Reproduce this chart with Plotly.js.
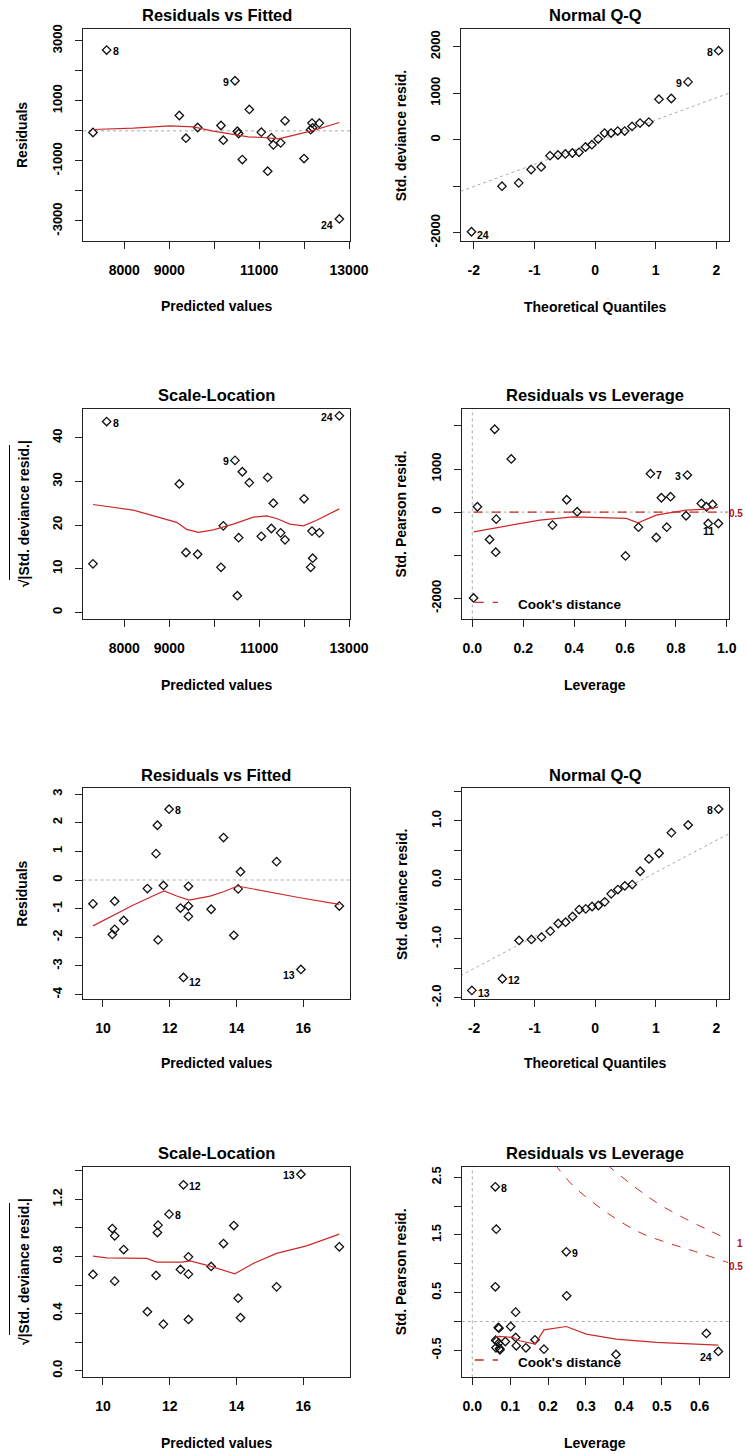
<!DOCTYPE html>
<html><head><meta charset="utf-8">
<script src="https://cdn.plot.ly/plotly-3.0.1.min.js"></script>
<style>html,body{margin:0;padding:0;background:#fff;} #plot{width:746px;height:1454px;}</style>
</head><body><div id="plot"></div>
<script>
const W = 746, H = 1454;
const RED = '#cc2a2a', DARKRED = '#b01818', GREY = '#ababab', INK = '#111';
const FONT = '"Liberation Sans", Arial, Helvetica, sans-serif';

// ---------------- data: model 1 ----------------
const fitted1 = [7303,7607,9224,9372,9632,10151,10203,10463,10515,10545,10626,10782,11049,11190,11272,11316,11479,11576,11999,12147,12177,12191,12340,12785];
const resid1 = [-56,2689,511,-244,111,178,-311,1667,-11,-89,-956,711,-44,-1344,-233,-467,-400,333,-922,40,257,100,256,-2933];
const sqrtStdDev1 = [11.1,43.7,29.4,13.7,13.3,10.3,19.8,34.8,3.8,17.1,32.2,29.7,17.4,30.9,19.2,25.0,18.2,16.6,26.0,10.3,18.6,12.4,18.2,45.0];
const smoothResid1X = [7303,8200,9016,9536,9981,10426,10760,11094,11427,11687,12169,12785];
const smoothResid1Y = [44,89,167,133,-11,-122,-200,-222,-267,-178,0,278];
const smoothScale1X = [7303,8200,9165,9387,9647,9981,10426,10871,11168,11390,11687,11984,12280,12785];
const smoothScale1Y = [24.7,23.4,20.6,19.0,18.3,18.9,20.2,21.8,22.1,21.5,20.2,19.8,21.1,23.7];
const theoQuant = [-2.037,-1.534,-1.258,-1.054,-0.887,-0.742,-0.611,-0.489,-0.374,-0.264,-0.157,-0.052,0.052,0.157,0.264,0.374,0.489,0.611,0.742,0.887,1.054,1.258,1.534,2.037];
const stdDevSorted1 = [-1979,-1000,-929,-643,-586,-343,-329,-307,-286,-271,-157,-107,14,143,143,186,186,286,357,379,871,886,1243,1914];
const qqLine1X = [-2.4, 2.4];
const qqLine1Y = [-1198, 1092];
const leverage1 = [0.005,0.020,0.068,0.088,0.092,0.094,0.153,0.315,0.371,0.412,0.602,0.653,0.700,0.723,0.743,0.764,0.779,0.840,0.845,0.900,0.920,0.927,0.944,0.967];
const pearson1 = [-1992,124,-636,1922,-930,-163,1233,-302,287,8,-1016,-349,891,-589,333,-349,357,-85,860,202,124,-264,178,-264];
const smoothLev1X = [0.005,0.134,0.265,0.396,0.527,0.605,0.651,0.723,0.763,0.841,0.920,0.966];
const smoothLev1Y = [-457,-318,-186,-109,-124,-147,-248,-70,-31,47,70,116];
const cook1X = [0.005, 1.0];
const cook1Y = [0, 0];

// ---------------- data: model 2 ----------------
const fitted2 = [9.70,10.28,10.35,10.35,10.62,11.33,11.59,11.63,11.65,11.81,11.98,12.32,12.41,12.56,12.56,12.56,13.24,13.61,13.92,14.05,14.12,15.20,15.93,17.08];
const resid2 = [-0.83,-1.90,-1.72,-0.74,-1.41,-0.30,0.92,1.91,-2.09,-0.19,2.47,-0.98,-3.40,-0.22,-0.91,-1.27,-1.02,1.48,-1.93,-0.31,0.29,0.64,-3.12,-0.91];
const sqrtStdDev2 = [0.674,0.995,0.944,0.627,0.848,0.413,0.667,0.967,1.019,0.326,1.096,0.709,1.301,0.359,0.676,0.797,0.730,0.890,1.016,0.508,0.371,0.587,1.375,0.867];
const smoothResid2X = [9.70,10.31,10.91,11.51,11.83,12.21,12.58,13.21,13.61,14.03,14.90,15.90,17.08];
const smoothResid2Y = [-1.60,-1.22,-0.87,-0.55,-0.38,-0.56,-0.70,-0.56,-0.41,-0.21,-0.41,-0.62,-0.85];
const smoothScale2X = [9.70,10.11,11.31,11.61,12.36,12.61,13.21,13.95,14.50,15.20,16.10,17.08];
const smoothScale2Y = [0.802,0.790,0.786,0.760,0.760,0.769,0.732,0.678,0.751,0.821,0.874,0.956];
const stdDevSorted2 = [-1.876,-1.678,-1.028,-1.011,-0.972,-0.870,-0.740,-0.718,-0.621,-0.503,-0.492,-0.452,-0.435,-0.373,-0.237,-0.164,-0.102,-0.079,0.147,0.356,0.452,0.802,0.932,1.203];
const qqLine2X = [-2.4, 2.4];
const qqLine2Y = [-1.721, 0.889];
const leverage2 = [0.0607,0.0633,0.0607,0.0686,0.0704,0.1012,0.1144,0.0616,0.0640,0.0695,0.0625,0.0721,0.0871,0.1144,0.1161,0.1416,0.1654,0.1891,0.2481,0.2490,0.3792,0.6176,0.6493,0.0730];
const pearson2 = [2.335,1.601,0.601,-0.104,-0.116,-0.087,0.162,-0.324,-0.340,-0.376,-0.457,-0.468,-0.347,-0.277,-0.422,-0.457,-0.318,-0.480,1.208,0.445,-0.572,-0.208,-0.520,-0.490];
const smoothLev2X = [0.0607,0.0721,0.107,0.125,0.1654,0.1891,0.248,0.301,0.379,0.486,0.649];
const smoothLev2Y = [-0.277,-0.26,-0.277,-0.335,-0.393,-0.145,-0.087,-0.22,-0.306,-0.364,-0.41];
const cookHalf2X = [0.218,0.2665,0.319,0.381,0.4425,0.513,0.583,0.675];
const cookHalf2Y = [2.726,2.35,2.062,1.773,1.542,1.369,1.224,1.022];
const cookOne2X = [0.355,0.425,0.4865,0.548,0.618,0.675];
const cookOne2Y = [2.72,2.35,2.062,1.83,1.60,1.426];

// ---------------- ticks ----------------
const ticksFit1 = [8000,9000,10000,11000,12000,13000];
const ticksFit1Txt = ['8000','9000','','11000','','13000'];
const ticksRes1 = [-3000,-2000,-1000,0,1000,2000,3000];
const ticksRes1Txt = ['-3000','','-1000','','1000','','3000'];
const ticksQ = [-2,-1,0,1,2];
const ticksQTxt = ['-2','-1','0','1','2'];
const ticksQQ1 = [-2000,-1000,0,1000,2000];
const ticksQQ1Txt = ['-2000','','0','1000','2000'];
const ticksSL1 = [0,10,20,30,40];
const ticksSL1Txt = ['0','10','20','30','40'];
const ticksLev1 = [0,0.2,0.4,0.6,0.8,1.0];
const ticksLev1Txt = ['0.0','0.2','0.4','0.6','0.8','1.0'];
const ticksPear1 = [-2000,-1000,0,1000,2000];
const ticksPear1Txt = ['-2000','','0','1000',''];
const ticksFit2 = [10,12,14,16];
const ticksFit2Txt = ['10','12','14','16'];
const ticksRes2 = [-4,-3,-2,-1,0,1,2,3];
const ticksRes2Txt = ['-4','-3','-2','-1','0','1','2','3'];
const ticksQQ2 = [-2,-1.5,-1,-0.5,0,0.5,1,1.5];
const ticksQQ2Txt = ['-2.0','','-1.0','','0.0','','1.0',''];
const ticksSL2 = [0,0.2,0.4,0.6,0.8,1.0,1.2,1.4];
const ticksSL2Txt = ['0.0','','0.4','','0.8','','1.2',''];
const ticksLev2 = [0,0.1,0.2,0.3,0.4,0.5,0.6];
const ticksLev2Txt = ['0.0','0.1','0.2','0.3','0.4','0.5','0.6'];
const ticksPear2 = [-0.5,0,0.5,1,1.5,2,2.5];
const ticksPear2Txt = ['-0.5','','0.5','','1.5','','2.5'];

// ---------------- build ----------------
const traces = [], annotations = [], shapes = [];
const layout = {
  width: W, height: H, margin: {l:0, r:0, t:0, b:0, pad:0},
  paper_bgcolor: '#fff', plot_bgcolor: '#fff', showlegend: false,
  font: {family: FONT, color: '#000'}
};
const px = v => v / W, py = v => 1 - v / H;
const axId = n => (n === 1 ? '' : String(n));

function addText(x, y, text, size, opts) {
  annotations.push(Object.assign({
    xref: 'paper', yref: 'paper', x: px(x), y: py(y), text: text, showarrow: false,
    xanchor: 'center', yanchor: 'middle',
    font: {family: FONT, size: size, color: '#000', weight: 'bold'}
  }, opts || {}));
}

function addPanel(p) {
  const id = axId(p.n);
  const b = p.box;
  const common = {
    tickmode: 'array', ticks: 'outside', ticklen: 7, tickwidth: 1, tickcolor: '#222',
    showline: true, mirror: true, linecolor: '#222', linewidth: 1,
    showgrid: false, zeroline: false, automargin: false
  };
  layout['xaxis' + id] = Object.assign({}, common, {
    domain: [px(b.l), px(b.r)], anchor: 'y' + id, range: p.xr,
    tickvals: p.xt, ticktext: p.xtt, ticklabelstandoff: 9,
    tickfont: {family: FONT, size: 14, color: '#000', weight: 'bold'}
  });
  layout['yaxis' + id] = Object.assign({}, common, {
    domain: [py(b.b), py(b.t)], anchor: 'x' + id, range: p.yr,
    tickvals: p.yt, ticktext: p.ytt, tickangle: -90, ticklabelstandoff: 8,
    tickfont: {family: FONT, size: 13, color: '#000', weight: 'bold'}
  });
  (p.refLines || []).forEach(r => traces.push({
    type: 'scatter', mode: 'lines', x: r.x, y: r.y, xaxis: 'x' + id, yaxis: 'y' + id,
    line: {color: r.color, width: r.width || 1, dash: r.dash, shape: r.shape || 'linear'}, hoverinfo: 'skip'
  }));
  (p.hz || []).forEach(v => shapes.push({type:'line', xref:'x'+id+' domain', x0:0, x1:1, yref:'y'+id, y0:v, y1:v,
    layer:'below', line:{color:GREY, width:1, dash:'dot'}}));
  (p.vt || []).forEach(v => shapes.push({type:'line', yref:'y'+id+' domain', y0:0, y1:1, xref:'x'+id, x0:v, x1:v,
    layer:'below', line:{color:GREY, width:1, dash:'dot'}}));
  traces.push({
    type: 'scatter', mode: 'markers', x: p.x, y: p.y, xaxis: 'x' + id, yaxis: 'y' + id,
    marker: {symbol: 'diamond-open', size: 6.5, color: INK, line: {width: 1.3, color: INK}}, hoverinfo: 'skip'
  });
  if (p.sx) traces.push({
    type: 'scatter', mode: 'lines', x: p.sx, y: p.sy, xaxis: 'x' + id, yaxis: 'y' + id,
    line: {color: RED, width: 1.2}, hoverinfo: 'skip'
  });
  (p.labels || []).forEach(L => {
    const a = {
      xref: 'x' + id, yref: 'y' + id, x: p.x[L.i], y: p.y[L.i], text: L.t, showarrow: false,
      yanchor: 'middle', yshift: L.dy || -1,
      font: {family: FONT, size: 10.5, color: '#000', weight: 'bold'}
    };
    if (L.s === 'r') { a.xanchor = 'left'; a.xshift = 4; }
    else if (L.s === 'l') { a.xanchor = 'right'; a.xshift = -4; }
    else { a.xanchor = 'center'; }
    annotations.push(a);
  });
  addText((b.l + b.r) / 2, p.titleY, p.title, 16.5);
  addText((b.l + b.r) / 2, p.xTitleY, p.xTitle, 14);
  addText(p.yTitleX, (b.t + b.b) / 2, p.yTitle, 14, {textangle: -90});
}

const xr1 = [7081, 13022], xrQ = [-2.205, 2.209], xr2 = [9.392, 17.40];

addPanel({n:1, box:{l:83,r:350,t:29,b:241}, xr:xr1, yr:[-3666,3389],
  xt:ticksFit1, xtt:ticksFit1Txt, yt:ticksRes1, ytt:ticksRes1Txt,
  x:fitted1, y:resid1, sx:smoothResid1X, sy:smoothResid1Y, hz:[0],
  labels:[{i:1,t:'8',s:'r'},{i:7,t:'9',s:'l'},{i:23,t:'24',s:'l',dy:-6}],
  title:'Residuals vs Fitted', titleY:15, xTitle:'Predicted values', xTitleY:306, yTitle:'Residuals', yTitleX:22});

addPanel({n:2, box:{l:461.3,r:729,t:29.3,b:240.7}, xr:xrQ, yr:[-2172,2374],
  xt:ticksQ, xtt:ticksQTxt, yt:ticksQQ1, ytt:ticksQQ1Txt,
  x:theoQuant, y:stdDevSorted1,
  refLines:[{x:qqLine1X, y:qqLine1Y, color:GREY, dash:'dot'}],
  labels:[{i:23,t:'8',s:'l'},{i:22,t:'9',s:'l'},{i:0,t:'24',s:'r',dy:-3}],
  title:'Normal Q-Q', titleY:15, xTitle:'Theoretical Quantiles', xTitleY:306.7, yTitle:'Std. deviance resid.', yTitleX:401.3});

addPanel({n:3, box:{l:83,r:350,t:409,b:619.3}, xr:xr1, yr:[-1.6,46.57],
  xt:ticksFit1, xtt:ticksFit1Txt, yt:ticksSL1, ytt:ticksSL1Txt,
  x:fitted1, y:sqrtStdDev1, sx:smoothScale1X, sy:smoothScale1Y,
  labels:[{i:1,t:'8',s:'r'},{i:7,t:'9',s:'l'},{i:23,t:'24',s:'l'}],
  title:'Scale-Location', titleY:395, xTitle:'Predicted values', xTitleY:684.5, yTitle:'√|Std. deviance resid.|', yTitleX:24});

addPanel({n:4, box:{l:461.7,r:729,t:409,b:619.3}, xr:[-0.0417,1.0087], yr:[-2487,2392],
  xt:ticksLev1, xtt:ticksLev1Txt, yt:ticksPear1, ytt:ticksPear1Txt,
  x:leverage1, y:pearson1, sx:smoothLev1X, sy:smoothLev1Y, hz:[0], vt:[0],
  refLines:[{x:cook1X, y:cook1Y, color:RED, dash:'dash', width:1.3}],
  labels:[{i:12,t:'7',s:'r'},{i:18,t:'3',s:'l'},{i:21,t:'11',s:'c',dy:-8}],
  title:'Residuals vs Leverage', titleY:395, xTitle:'Leverage', xTitleY:685, yTitle:'Std. Pearson resid.', yTitleX:401.3});

addPanel({n:5, box:{l:82.7,r:350,t:788.3,b:999.3}, xr:xr2, yr:[-4.162,3.199],
  xt:ticksFit2, xtt:ticksFit2Txt, yt:ticksRes2, ytt:ticksRes2Txt,
  x:fitted2, y:resid2, sx:smoothResid2X, sy:smoothResid2Y, hz:[0],
  labels:[{i:10,t:'8',s:'r'},{i:12,t:'12',s:'r',dy:-5},{i:22,t:'13',s:'l',dy:-6}],
  title:'Residuals vs Fitted', titleY:775, xTitle:'Predicted values', xTitleY:1063.3, yTitle:'Residuals', yTitleX:22});

addPanel({n:6, box:{l:461.7,r:729,t:788.3,b:999.3}, xr:xrQ, yr:[-2.027,1.555],
  xt:ticksQ, xtt:ticksQTxt, yt:ticksQQ2, ytt:ticksQQ2Txt,
  x:theoQuant, y:stdDevSorted2,
  refLines:[{x:qqLine2X, y:qqLine2Y, color:GREY, dash:'dot'}],
  labels:[{i:23,t:'8',s:'l'},{i:1,t:'12',s:'r'},{i:0,t:'13',s:'r',dy:-3}],
  title:'Normal Q-Q', titleY:775, xTitle:'Theoretical Quantiles', xTitleY:1063.3, yTitle:'Std. deviance resid.', yTitleX:401.3});

addPanel({n:7, box:{l:82.7,r:350,t:1166.7,b:1377.3}, xr:xr2, yr:[-0.046,1.428],
  xt:ticksFit2, xtt:ticksFit2Txt, yt:ticksSL2, ytt:ticksSL2Txt,
  x:fitted2, y:sqrtStdDev2, sx:smoothScale2X, sy:smoothScale2Y,
  labels:[{i:12,t:'12',s:'r'},{i:10,t:'8',s:'r'},{i:22,t:'13',s:'l'}],
  title:'Scale-Location', titleY:1153, xTitle:'Predicted values', xTitleY:1442.7, yTitle:'√|Std. deviance resid.|', yTitleX:24});

addPanel({n:8, box:{l:461.7,r:729,t:1166.7,b:1377.3}, xr:[-0.028,0.6774], yr:[-0.968,2.684],
  xt:ticksLev2, xtt:ticksLev2Txt, yt:ticksPear2, ytt:ticksPear2Txt,
  x:leverage2, y:pearson2, sx:smoothLev2X, sy:smoothLev2Y, hz:[0], vt:[0],
  refLines:[{x:cookHalf2X, y:cookHalf2Y, color:RED, dash:'dash', shape:'spline'},
            {x:cookOne2X, y:cookOne2Y, color:RED, dash:'dash', shape:'spline'}],
  labels:[{i:0,t:'8',s:'r'},{i:18,t:'9',s:'r'},{i:22,t:'24',s:'l',dy:-6}],
  title:'Residuals vs Leverage', titleY:1153, xTitle:'Leverage', xTitleY:1443.3, yTitle:'Std. Pearson resid.', yTitleX:401.3});

// sqrt overlines
[[445,580],[1203,1335]].forEach(r => shapes.push({type:'line', xref:'paper', yref:'paper',
  x0:px(9.5), x1:px(9.5), y0:py(r[0]), y1:py(r[1]), line:{color:'#000', width:1}}));

// Cook's distance legends
[[602.3,604.3],[1360,1362.7]].forEach(r => {
  shapes.push({type:'line', xref:'paper', yref:'paper', x0:px(474.7), x1:px(498), y0:py(r[0]), y1:py(r[0]),
    line:{color:RED, width:1.3, dash:'dash'}});
  addText(516.3, r[1], "Cook's distance", 13.5, {xanchor:'left'});
});

// contour labels in the right margin
const redLab = {family:FONT, size:10, color:DARKRED, weight:'bold'};
addText(745, 513, '0.5', 10, {xanchor:'right', font:redLab});
addText(735, 1243, '1', 10, {xanchor:'left', font:redLab});
addText(745, 1266.7, '0.5', 10, {xanchor:'right', font:redLab});

layout.annotations = annotations;
layout.shapes = shapes;
Plotly.newPlot('plot', traces, layout, {staticPlot: true, displayModeBar: false});
</script></body></html>
